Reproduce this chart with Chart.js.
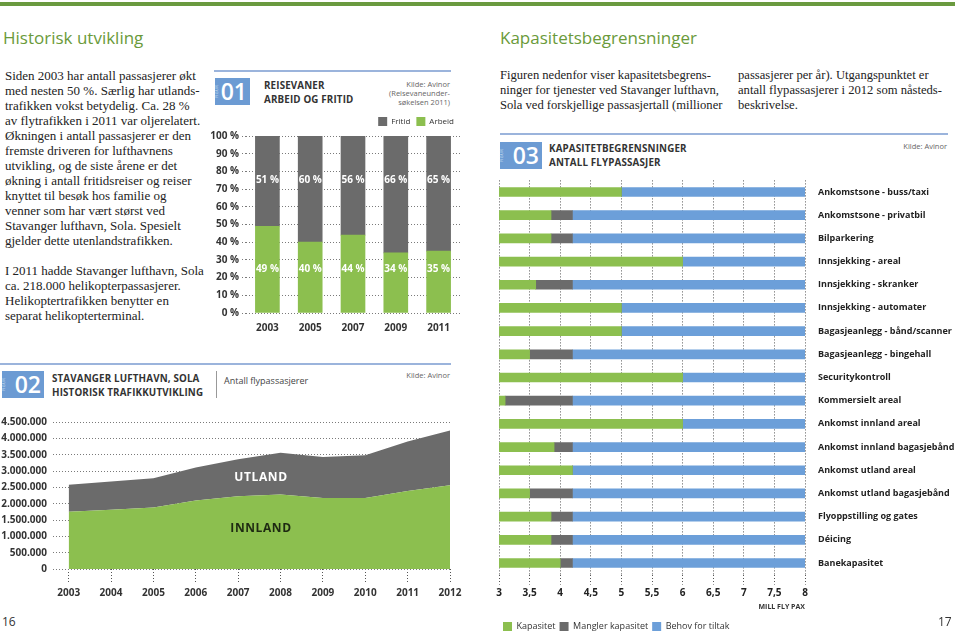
<!DOCTYPE html>
<html lang="no">
<head>
<meta charset="UTF-8">
<title>Historisk utvikling og kapasitetsbegrensninger</title>
<script src="https://cdn.jsdelivr.net/npm/chart.js"></script>
<style>
    body {
        margin: 0;
        width: 959px;
        height: 632px;
        position: relative;
        overflow: hidden;
        background: #fff;
        font-family: "Open Sans", sans-serif;
        color: #333;
    }
    .abs { position: absolute; }
    .topbar { left: 0; top: 2px; width: 955px; height: 4px; background: #6a9a3f; }
    h2 {
        position: absolute;
        margin: 0;
        font-weight: normal;
        font-size: 17px;
        line-height: 20px;
        color: #6a9a3a;
    }
    .body {
        position: absolute;
        font-family: "Liberation Serif", serif;
        font-size: 13px;
        line-height: 15px;
        white-space: pre;
        color: #222;
    }
    .body.smal { font-size: 12.6px; }
    .rule { position: absolute; height: 0; border-top: 2px solid #9bb4dc; }
    .fig { position: absolute; background: #6c9bd3; color: #fff; }
    .fig .figur {
        position: absolute;
        left: -5px;
        top: 11px;
        font-size: 4px;
        letter-spacing: 0.3px;
        transform: rotate(-90deg);
        color: #dde8f6;
    }
    .fig .num {
        position: absolute;
        right: 3px;
        top: 0;
        font-size: 23px;
        line-height: 27px;
        font-weight: 600;
    }
    .ftitle {
        position: absolute;
        font-weight: 700;
        font-size: 9.8px;
        line-height: 13.5px;
        letter-spacing: 0.15px;
        color: #333;
        white-space: pre;
    }
    .kilde {
        position: absolute;
        font-size: 7.5px;
        line-height: 9px;
        color: #666;
        text-align: right;
        white-space: pre;
    }
    .areal {
        position: absolute;
        font-weight: 700;
        font-size: 12px;
        letter-spacing: 0.6px;
        transform: translate(-50%, -50%);
    }
    .pnum { position: absolute; font-size: 12px; color: #333; }
    canvas { position: absolute; }
</style>
</head>
<body>
<div class="abs topbar"></div>

<h2 style="left:3px;top:28px">Historisk utvikling</h2>
<h2 style="left:500px;top:28px">Kapasitetsbegrensninger</h2>

<div class="body" style="left:5px;top:68px">Siden 2003 har antall passasjerer økt
med nesten 50 %. Særlig har utlands-
trafikken vokst betydelig. Ca. 28 %
av flytrafikken i 2011 var oljerelatert.
Økningen i antall passasjerer er den
fremste driveren for lufthavnens
utvikling, og de siste årene er det
økning i antall fritidsreiser og reiser
knyttet til besøk hos familie og
venner som har vært størst ved
Stavanger lufthavn, Sola. Spesielt
gjelder dette utenlandstrafikken.

I 2011 hadde Stavanger lufthavn, Sola
ca. 218.000 helikopterpassasjerer.
Helikoptertrafikken benytter en
separat helikopterterminal.</div>

<div class="body smal" style="left:500px;top:68px">Figuren nedenfor viser kapasitetsbegrens-
ninger for tjenester ved Stavanger lufthavn,
Sola ved forskjellige passasjertall (millioner</div>
<div class="body smal" style="left:738px;top:68px">passasjerer per år). Utgangspunktet er
antall flypassasjerer i 2012 som nåsteds-
beskrivelse.</div>

<!-- figur 01 -->
<div class="rule" style="left:214px;top:70px;width:237px"></div>
<div class="fig" style="left:215px;top:78px;width:35px;height:27px"><span class="figur">FIGUR</span><span class="num">01</span></div>
<div class="ftitle" style="left:264px;top:79px">REISEVANER
ARBEID OG FRITID</div>
<div class="kilde" style="right:509px;top:80px">Kilde: Avinor
(Reisevaneunder-
søkelsen 2011)</div>
<canvas id="reisevaner" width="260" height="224" style="left:200px;top:111px"></canvas>

<!-- figur 02 -->
<div class="rule" style="left:0;top:363px;width:451px"></div>
<div class="fig" style="left:2px;top:371px;width:42px;height:27px"><span class="figur">FIGUR</span><span class="num">02</span></div>
<div class="ftitle" style="left:52px;top:372px">STAVANGER LUFTHAVN, SOLA
HISTORISK TRAFIKKUTVIKLING</div>
<div class="abs" style="left:216px;top:371px;width:0;height:27px;border-left:1px solid #999"></div>
<div class="abs" style="left:224px;top:374px;font-size:9px;color:#444">Antall flypassasjerer</div>
<div class="kilde" style="right:509px;top:371px">Kilde: Avinor</div>
<canvas id="trafikk" width="470" height="193" style="left:0;top:410px"></canvas>
<div class="areal" style="left:261px;top:476px;color:#fff">UTLAND</div>
<div class="areal" style="left:261px;top:527px;color:#1e2a12">INNLAND</div>

<!-- figur 03 -->
<div class="rule" style="left:500px;top:133px;width:448px"></div>
<div class="fig" style="left:500px;top:142px;width:42px;height:27px"><span class="figur">FIGUR</span><span class="num">03</span></div>
<div class="ftitle" style="left:549px;top:142px">KAPASITETBEGRENSNINGER
ANTALL FLYPASSASJER</div>
<div class="kilde" style="right:12px;top:142px">Kilde: Avinor</div>
<canvas id="kapasitet" width="466" height="480" style="left:493px;top:162px"></canvas>

<div class="pnum" style="left:2px;top:613px">16</div>
<div class="pnum" style="left:938px;top:613px">17</div>

<script>
    // figur 01 - reisevaner
    const reiseAar = ['2003', '2005', '2007', '2009', '2011'];
    const arbeid = [49, 40, 44, 34, 35];
    const fritid = [51, 60, 56, 66, 65];

    // figur 02 - trafikkutvikling
    const trafikkAar = [2003, 2004, 2005, 2006, 2007, 2008, 2009, 2010, 2011, 2012];
    const innland = [1750000, 1810000, 1880000, 2100000, 2230000, 2280000, 2170000, 2170000, 2390000, 2560000];
    const utland = [830000, 870000, 900000, 1010000, 1130000, 1280000, 1260000, 1310000, 1510000, 1680000];

    // figur 03 - kapasitet (mill. fly pax)
    const omrader = [
        'Ankomstsone - buss/taxi', 'Ankomstsone - privatbil', 'Bilparkering',
        'Innsjekking - areal', 'Innsjekking - skranker', 'Innsjekking - automater',
        'Bagasjeanlegg - bånd/scanner', 'Bagasjeanlegg - bingehall', 'Securitykontroll',
        'Kommersielt areal', 'Ankomst innland areal', 'Ankomst innland bagasjebånd',
        'Ankomst utland areal', 'Ankomst utland bagasjebånd', 'Flyoppstilling og gates',
        'Déicing', 'Banekapasitet'
    ];
    const kapasitetTil = [5.0, 3.85, 3.85, 6.0, 3.6, 5.0, 5.0, 3.5, 6.0, 3.1, 6.0, 3.9, 4.2, 3.5, 3.85, 3.85, 4.0];
    const manglerTil = [5.0, 4.2, 4.2, 6.0, 4.2, 5.0, 5.0, 4.2, 6.0, 4.2, 6.0, 4.2, 4.2, 4.2, 4.2, 4.2, 4.2];
    const paxMin = 3;
    const paxMax = 8;

    const GREEN = '#8cbf4f';
    const GREY = '#6b6b6b';
    const BLUE = '#6c9fd9';
    const DOT = '#7a7a7a';

    Chart.defaults.font.family = "'Open Sans', sans-serif";
    Chart.defaults.color = '#333';
    Chart.defaults.animation = false;

    const boldTick = { size: 10, weight: 'bold' };
    const punktum = v => String(v).replace(/\B(?=(\d{3})+(?!\d))/g, '.');

    // prosentetiketter inne i stolpene, på faste nivåer
    const prosentLabels = {
        id: 'prosentLabels',
        afterDatasetsDraw(chart, args, opts) {
            const ctx = chart.ctx;
            const y = chart.scales.y;
            ctx.save();
            ctx.fillStyle = '#fff';
            ctx.font = "bold 10px 'Open Sans', sans-serif";
            ctx.textAlign = 'center';
            ctx.textBaseline = 'middle';
            chart.data.datasets.forEach((ds, i) => {
                chart.getDatasetMeta(i).data.forEach((bar, j) => {
                    ctx.fillText(ds.data[j] + ' %', bar.x, y.getPixelForValue(opts.levels[i]));
                });
            });
            ctx.restore();
        }
    };

    new Chart(document.getElementById('reisevaner'), {
        type: 'bar',
        data: {
            labels: reiseAar,
            datasets: [
                { label: 'Arbeid', data: arbeid, backgroundColor: GREEN, barThickness: 24 },
                { label: 'Fritid', data: fritid, backgroundColor: GREY, barThickness: 24 }
            ]
        },
        options: {
            responsive: false,
            scales: {
                x: {
                    stacked: true,
                    grid: { display: false },
                    border: { display: false },
                    ticks: { font: boldTick, padding: 1, color: '#333' }
                },
                y: {
                    stacked: true,
                    min: 0,
                    max: 100,
                    afterFit: s => { s.width = 46; },
                    border: { display: false, dash: [1, 2] },
                    grid: { color: DOT, lineWidth: 1, tickLength: 4, tickBorderDash: [1, 2], tickColor: DOT },
                    ticks: { stepSize: 10, padding: 3, font: boldTick, color: '#333', callback: v => v + ' %' }
                }
            },
            plugins: {
                legend: {
                    position: 'top',
                    align: 'end',
                    reverse: true,
                    labels: { boxWidth: 9, boxHeight: 9, font: { size: 8 }, padding: 6 }
                },
                tooltip: { enabled: false },
                prosentLabels: { levels: [25, 75] }
            }
        },
        plugins: [prosentLabels]
    });

    const punkter = arr => arr.map((v, i) => ({ x: trafikkAar[i], y: v }));

    new Chart(document.getElementById('trafikk'), {
        type: 'line',
        data: {
            datasets: [
                { label: 'Innland', data: punkter(innland), backgroundColor: GREEN, fill: 'origin', borderWidth: 0, pointRadius: 0, tension: 0 },
                { label: 'Utland', data: punkter(utland), backgroundColor: GREY, fill: '-1', borderWidth: 0, pointRadius: 0, tension: 0 }
            ]
        },
        options: {
            responsive: false,
            layout: { padding: { top: 10, right: 20 } },
            scales: {
                x: {
                    type: 'linear',
                    min: 2002.63,
                    max: 2012,
                    afterBuildTicks: s => { s.ticks = trafikkAar.map(v => ({ value: v })); },
                    border: { display: false },
                    grid: { drawOnChartArea: false, tickLength: 14, tickBorderDash: [1, 2], tickColor: '#555' },
                    ticks: { font: boldTick, padding: 4, color: '#333', callback: v => String(v) }
                },
                y: {
                    stacked: true,
                    min: 0,
                    max: 4500000,
                    afterFit: s => { s.width = 53; },
                    border: { display: false, dash: [1, 2] },
                    grid: { color: DOT, drawTicks: false },
                    ticks: { stepSize: 500000, padding: 6, font: boldTick, color: '#333', callback: v => punktum(v) }
                }
            },
            plugins: {
                legend: { display: false },
                tooltip: { enabled: false }
            }
        }
    });

    const kapData = kapasitetTil.map(k => [paxMin, k]);
    const manData = kapasitetTil.map((k, i) => [k, manglerTil[i]]);
    const behovData = manglerTil.map(m => [m, paxMax]);

    new Chart(document.getElementById('kapasitet'), {
        type: 'bar',
        data: {
            labels: omrader,
            datasets: [
                { label: 'Kapasitet', data: kapData, backgroundColor: GREEN, barThickness: 9, grouped: false },
                { label: 'Mangler kapasitet', data: manData, backgroundColor: GREY, barThickness: 9, grouped: false },
                { label: 'Behov for tiltak', data: behovData, backgroundColor: BLUE, barThickness: 9, grouped: false }
            ]
        },
        options: {
            responsive: false,
            indexAxis: 'y',
            layout: { padding: { left: 6, top: 4, bottom: 1 } },
            scales: {
                x: {
                    min: paxMin,
                    max: paxMax,
                    z: 1,
                    border: { display: false, dash: [1, 2] },
                    grid: { color: '#555', tickLength: 10, tickColor: '#555', tickBorderDash: [1, 2] },
                    ticks: { stepSize: 0.5, padding: 3, font: boldTick, color: '#222', callback: v => String(v).replace('.', ',') },
                    title: { display: true, text: 'MILL FLY PAX', align: 'end', font: { size: 7, weight: 'bold' }, padding: { top: 0, bottom: 7 } }
                },
                y: {
                    position: 'right',
                    afterFit: s => { s.width = 154; },
                    border: { display: false },
                    grid: { display: false, drawTicks: false },
                    ticks: { padding: 13, font: { size: 9, weight: 'bold' }, color: '#222' }
                }
            },
            plugins: {
                legend: {
                    position: 'bottom',
                    align: 'start',
                    labels: { boxWidth: 9, boxHeight: 9, font: { size: 9 }, padding: 4 }
                },
                tooltip: { enabled: false }
            }
        }
    });
</script>
</body>
</html>
